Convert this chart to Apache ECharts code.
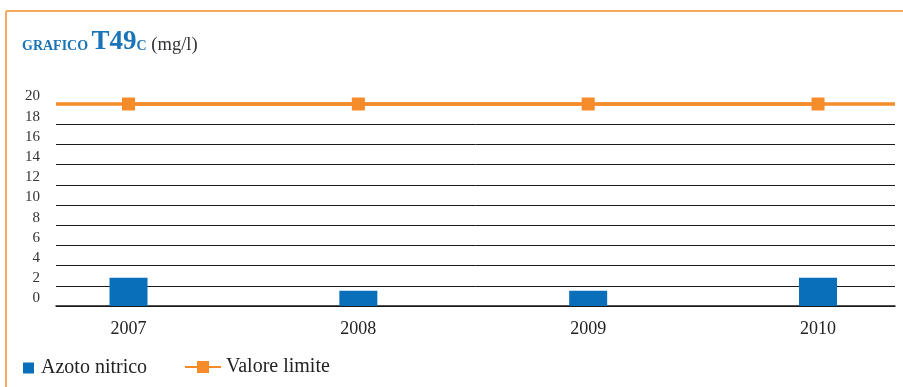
<!DOCTYPE html>
<html><head><meta charset="utf-8">
<script src="https://cdn.jsdelivr.net/npm/echarts@6/dist/echarts.min.js"></script>
<style>html,body{margin:0;padding:0;background:#fff}#c{width:903px;height:387px}</style>
</head><body><div id="c"></div>
<script>
const years = [2007, 2008, 2009, 2010];
const azotoNitrico = [2.8, 1.5, 1.5, 2.8];
const valoreLimite = [20, 20, 20, 20];
const yMin = 0, yMax = 20, yStep = 2;

const serif = '"Liberation Serif", "DejaVu Serif", serif';
const chart = echarts.init(document.getElementById('c'), null, {renderer: 'canvas'});
chart.setOption({
  animation: false,
  backgroundColor: '#fff',
  title: {
    left: 22, top: 29, padding: 0,
    text: '{a|GRAFICO }{b|T49}{a|C}{c| (mg/l)}',
    textStyle: {
      fontWeight: 'normal',
      rich: {
        a: {fontFamily: serif, fontSize: 14, fontWeight: 'bold', color: '#1a74b9', verticalAlign: 'bottom', padding: [0, 0, 3, 0]},
        b: {fontFamily: serif, fontSize: 27, fontWeight: 'bold', color: '#1a74b9', verticalAlign: 'bottom'},
        c: {fontFamily: serif, fontSize: 18.5, fontWeight: 'normal', color: '#333', verticalAlign: 'bottom', padding: [0, 0, 1, 0]}
      }
    }
  },
  graphic: [
    {type: 'line', shape: {x1: 6, y1: 11, x2: 903, y2: 11}, style: {stroke: '#f7aa5f', lineWidth: 2}},
    {type: 'line', shape: {x1: 6, y1: 11, x2: 6, y2: 387}, style: {stroke: '#f7aa5f', lineWidth: 2}}
  ],
  legend: [
    {data: [{name: 'Azoto nitrico', icon: 'rect'}], left: 23, top: 358, itemWidth: 11, itemHeight: 11, padding: 0,
     itemGap: 0, textStyle: {fontFamily: serif, fontSize: 20, color: '#222', padding: [0, 0, 0, 2]}},
    {data: ['Valore limite'], left: 184, top: 357, itemWidth: 36, itemHeight: 15, padding: 0,
     textStyle: {fontFamily: serif, fontSize: 20, color: '#222'}}
  ],
  grid: {left: 56, right: 8, top: 104, bottom: 81},
  xAxis: {
    type: 'value', min: 2006.6845, max: 2010.335,
    splitLine: {show: false},
    axisTick: {show: false},
    axisLine: {show: true, onZero: false, lineStyle: {color: '#1a1a1a', width: 1.5}},
    axisLabel: {
      customValues: years, formatter: v => String(v), margin: 14,
      fontFamily: serif, fontSize: 18, color: '#222'
    }
  },
  yAxis: {
    type: 'value', min: yMin, max: yMax, interval: yStep,
    axisLine: {show: false}, axisTick: {show: false},
    splitLine: {lineStyle: {color: '#1a1a1a', width: 1}},
    axisLabel: {fontFamily: serif, fontSize: 15, color: '#333', margin: 16, verticalAlign: 'bottom'}
  },
  series: [
    {
      name: 'Azoto nitrico', type: 'bar', barWidth: 38,
      itemStyle: {color: '#0a6fba'},
      data: years.map((y, i) => [y, azotoNitrico[i]])
    },
    {
      name: 'Valore limite', type: 'line', symbol: 'rect', symbolSize: 13,
      itemStyle: {color: '#f68b2a'}, lineStyle: {color: '#f68b2a', width: 3.5},
      z: 5,
      markLine: {
        silent: true, symbol: 'none', label: {show: false},
        lineStyle: {color: '#f68b2a', width: 3.5, type: 'solid'},
        data: [{yAxis: valoreLimite[0]}]
      },
      data: years.map((y, i) => [y, valoreLimite[i]])
    }
  ]
});
</script></body></html>
